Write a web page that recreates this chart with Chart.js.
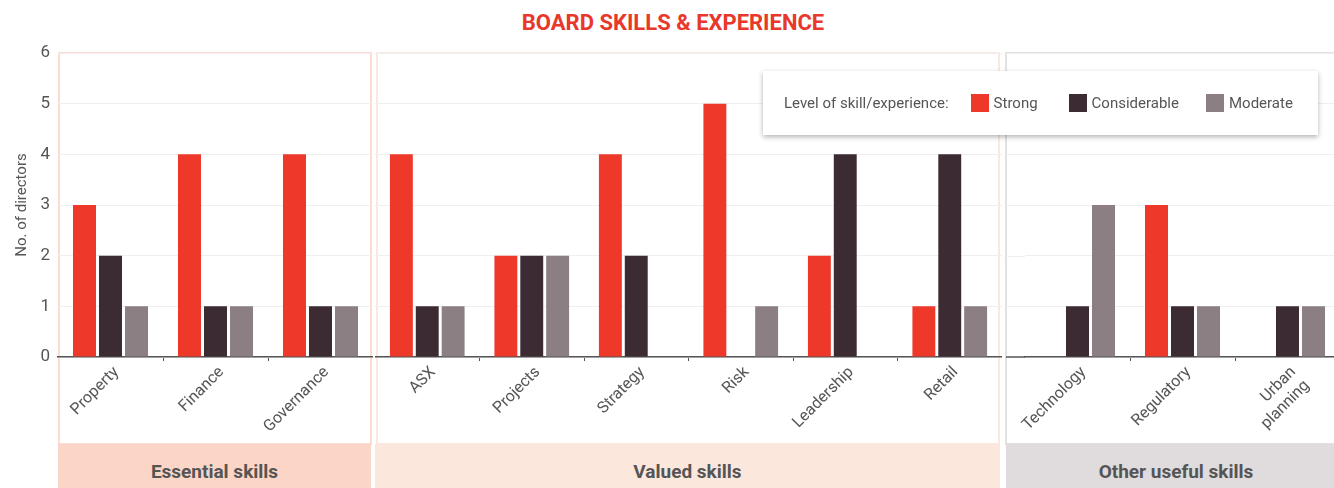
<!DOCTYPE html>
<html>
<head>
<meta charset="utf-8">
<script src="https://cdn.jsdelivr.net/npm/chart.js@4.4.1/dist/chart.umd.min.js"></script>
<style>
  html, body { margin: 0; padding: 0; background: #fff; }
  body { width: 1334px; height: 488px; position: relative; overflow: hidden; font-family: Roboto, sans-serif; }
  .abs { position: absolute; }
  #title { left: 673px; top: 10px; transform: translateX(-50%); color: #e8382b; font-weight: bold; font-size: 22px; white-space: nowrap; }
  .panel { box-sizing: border-box; border: 2px solid; }
  .band { box-sizing: border-box; color: #555; font-weight: bold; font-size: 19px; text-align: center; padding-top: 16px; }
  #legend { left: 763px; top: 71px; width: 555px; height: 64px; background: #fff; box-shadow: 0 2px 5px rgba(0,0,0,0.3);
            display: flex; align-items: center; color: #555; font-size: 15px; white-space: nowrap; }
  #legend .sw { width: 18px; height: 18px; display: inline-block; margin-right: 5px; }
  #legend .item { display: flex; align-items: center; }
  canvas { position: absolute; top: 0; }
</style>
</head>
<body>
<div id="title" class="abs">BOARD SKILLS &amp; EXPERIENCE</div>

<div class="abs panel" style="left:58px; top:52px; width:314px; height:393px; border-color:#fcdcd0;"></div>
<div class="abs panel" style="left:376px; top:52px; width:624px; height:393px; border-color:#fde8df;"></div>
<div class="abs panel" style="left:1005px; top:52px; width:340px; height:393px; border-color:#e2e0e0;"></div>

<div id="band0" class="abs band" style="left:58px; top:444px; width:313px; height:44px; background:#fbd5c6;"></div>
<div id="band1" class="abs band" style="left:375px; top:444px; width:625px; height:44px; background:#fce7dd;"></div>
<div id="band2" class="abs band" style="left:1006px; top:444px; width:340px; height:44px; background:#e0dbdc;"></div>

<canvas id="c0" width="373" height="444" style="left:0px;"></canvas>
<canvas id="c1" width="627" height="444" style="left:375px;"></canvas>
<canvas id="c2" width="334" height="444" style="left:1006px;"></canvas>

<div id="legend" class="abs"></div>

<script>
var categories = ['Property', 'Finance', 'Governance', 'ASX', 'Projects', 'Strategy', 'Risk', 'Leadership', 'Retail', 'Technology', 'Regulatory', ['Urban', 'planning']];
var strong       = [3, 4, 4, 4, 2, 4, 5, 2, 1, 0, 3, 0];
var considerable = [2, 1, 1, 1, 2, 2, 0, 4, 4, 1, 1, 1];
var moderate     = [1, 1, 1, 1, 2, 0, 1, 0, 1, 3, 1, 1];
var seriesNames = ['Strong', 'Considerable', 'Moderate'];
var groupNames = ['Essential skills', 'Valued skills', 'Other useful skills'];
var groupSizes = [3, 6, 3];
var yTicks = [0, 1, 2, 3, 4, 5, 6];
var legendTitle = 'Level of skill/experience:';
var yTitle = 'No. of directors';

var cStrong = '#ee3829';
var cConsiderable = '#3c2b33';
var cModerate = '#8b7f83';
var colors = [cStrong, cConsiderable, cModerate];
var textCol = '#555';
var gridCol = '#efefef';

// legend + bands
var lg = document.getElementById('legend');
var gaps = [31, 27, 0];
var html = '<span style="margin-left:21px; margin-right:22px;">' + legendTitle + '</span>';
for (var i = 0; i < seriesNames.length; i++) {
    html += '<span class="item" style="margin-right:' + gaps[i] + 'px"><span class="sw" style="background:' + colors[i] + '"></span>' + seriesNames[i] + '</span>';
}
lg.innerHTML = html;
groupNames.forEach(function (g, i) { document.getElementById('band' + i).textContent = g; });

// carries the grid and axis line into the left padding of a panel
var extendLeft = {
    id: 'extendLeft',
    beforeDatasetsDraw: function (chart) {
        var c = chart.ctx, a = chart.chartArea, y = chart.scales.y;
        if (a.left < 5) return;
        c.save();
        c.lineWidth = 1;
        c.strokeStyle = gridCol;
        yTicks.slice(1).forEach(function (v) {
            var p = Math.round(y.getPixelForValue(v)) + 0.5;
            c.beginPath(); c.moveTo(0, p); c.lineTo(a.left, p); c.stroke();
        });
        c.lineWidth = 1.5;
        c.strokeStyle = textCol;
        c.beginPath(); c.moveTo(0, a.bottom); c.lineTo(a.left, a.bottom); c.stroke();
        c.restore();
    }
};

function makeChart(id, start, count, first, padLeft) {
    var end = start + count;
    var ctx = document.getElementById(id).getContext('2d');
    return new Chart(ctx, {
        type: 'bar',
        data: {
            labels: categories.slice(start, end),
            datasets: [
                { label: seriesNames[0], data: strong.slice(start, end), backgroundColor: cStrong },
                { label: seriesNames[1], data: considerable.slice(start, end), backgroundColor: cConsiderable },
                { label: seriesNames[2], data: moderate.slice(start, end), backgroundColor: cModerate }
            ]
        },
        plugins: first ? [] : [extendLeft],
        options: {
            responsive: false,
            maintainAspectRatio: false,
            animation: false,
            categoryPercentage: 0.743,
            barPercentage: 0.885,
            layout: { padding: { left: padLeft, top: 53, right: 0, bottom: 0 } },
            plugins: { legend: { display: false }, tooltip: { enabled: false } },
            scales: {
                x: {
                    offset: true,
                    afterFit: function (s) { s.height = 87; },
                    border: { color: textCol, width: 1.5 },
                    grid: {
                        offset: true,
                        drawOnChartArea: false,
                        tickLength: 4,
                        color: function (c) { return (c.index === 0 || c.index === count) ? 'rgba(0,0,0,0)' : textCol; }
                    },
                    ticks: {
                        autoSkip: false,
                        minRotation: 45,
                        maxRotation: 45,
                        padding: 2,
                        labelOffset: 6,
                        color: textCol,
                        font: { family: 'Roboto', size: 16 }
                    }
                },
                y: {
                    min: 0,
                    max: 6,
                    afterFit: function (s) { s.width = first ? 50 : 0; },
                    afterBuildTicks: function (s) { s.ticks = yTicks.map(function (v) { return { value: v }; }); },
                    border: { display: false },
                    grid: { color: gridCol, drawTicks: false },
                    ticks: {
                        display: first,
                        padding: 8,
                        color: textCol,
                        font: { family: 'Roboto', size: 17 }
                    },
                    title: {
                        display: first,
                        text: yTitle,
                        color: textCol,
                        padding: { top: 5, bottom: 0 },
                        font: { family: 'Roboto', size: 15 }
                    }
                }
            }
        }
    });
}

var pos = 0;
makeChart('c0', pos, groupSizes[0], true, 8); pos += groupSizes[0];
makeChart('c1', pos, groupSizes[1], false, 0); pos += groupSizes[1];
makeChart('c2', pos, groupSizes[2], false, 19);
</script>
</body>
</html>
